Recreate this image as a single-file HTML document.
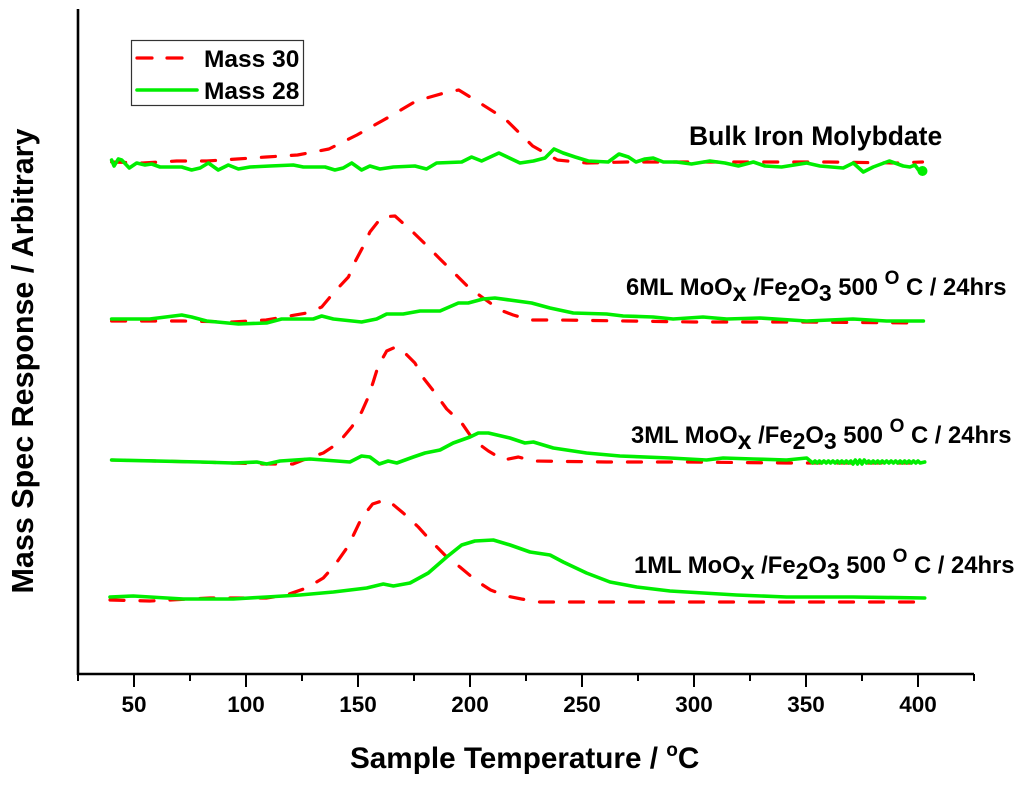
<!DOCTYPE html>
<html lang="en">
<head>
<meta charset="utf-8">
<title>Mass Spec Response vs Sample Temperature</title>
<style>
html,body{margin:0;padding:0;background:#fff;}
svg{display:block;filter:blur(0.35px);}
text{font-family:"Liberation Sans",Arial,sans-serif;font-weight:bold;fill:#000;}
</style>
</head>
<body>
<svg id="chart" width="1024" height="786" viewBox="0 0 1024 786" xmlns="http://www.w3.org/2000/svg">
<rect width="1024" height="786" fill="#fff"/>
<g id="series-layer"></g>
<g id="axis-layer"></g>
<text transform="translate(33,361) rotate(-90)" text-anchor="middle" font-size="30.5">Mass Spec Response / Arbitrary</text>
<text x="350" y="768" font-size="29.7">Sample Temperature / <tspan font-size="19" dy="-12">o</tspan><tspan dy="12">C</tspan></text>
<g>
<rect x="131.5" y="40.5" width="172" height="65" fill="#fff" stroke="#333" stroke-width="1.2"/>
<line x1="137" y1="58" x2="183" y2="58" stroke="#f00" stroke-width="3.2" stroke-linecap="round" stroke-dasharray="15 15"/>
<text x="204" y="67" font-size="24.5">Mass 30</text>
<line x1="137" y1="90" x2="197" y2="90" stroke="#0e0" stroke-width="3.6" stroke-linecap="round"/>
<text x="204" y="99" font-size="24.5">Mass 28</text>
</g>
<text x="689" y="145" font-size="26.5">Bulk Iron Molybdate</text>
<text x="626" y="295" font-size="23.8">6ML MoO<tspan font-size="25" dy="6">x</tspan><tspan dy="-6"> /Fe</tspan><tspan font-size="23" dy="6">2</tspan><tspan dy="-6">O</tspan><tspan font-size="23" dy="6">3</tspan><tspan dy="-6"> 500 </tspan><tspan font-size="19" dy="-11">O</tspan><tspan dy="11"> C / 24hrs</tspan></text>
<text x="631" y="443" font-size="23.8">3ML MoO<tspan font-size="25" dy="6">x</tspan><tspan dy="-6"> /Fe</tspan><tspan font-size="23" dy="6">2</tspan><tspan dy="-6">O</tspan><tspan font-size="23" dy="6">3</tspan><tspan dy="-6"> 500 </tspan><tspan font-size="19" dy="-11">O</tspan><tspan dy="11"> C / 24hrs</tspan></text>
<text x="634" y="573" font-size="23.8">1ML MoO<tspan font-size="25" dy="6">x</tspan><tspan dy="-6"> /Fe</tspan><tspan font-size="23" dy="6">2</tspan><tspan dy="-6">O</tspan><tspan font-size="23" dy="6">3</tspan><tspan dy="-6"> 500 </tspan><tspan font-size="19" dy="-11">O</tspan><tspan dy="11"> C / 24hrs</tspan></text>
</svg>
<script>
const xTickValues = [25,50,75,100,125,150,175,200,225,250,275,300,325,350,375,400,425];
const xTickLabels = ["50","100","150","200","250","300","350","400"];

const bulkM30T = [40,54,69,82.5,96,109,123,137,149.5,163,176,190,195,203,215.7,228,239,252,270,300,330,360,390,402];
const bulkM30R = [513,512,514,514,516,518,520,526,540,557,574,583,585,574,556,529,515,512,513,513,513,513,512,513];
const bulkM28T = [40,41.1,43,44.5,47.9,51.2,54.9,57.9,61.6,71.3,75.7,79.5,83.2,87.6,92.1,96.6,101.8,110.7,121.1,125.6,135.3,139.7,143.4,147.2,151.6,155.3,159.8,165.8,175.4,180.6,185.1,196.3,200.7,205.2,212.9,222.3,228.3,233.5,237.5,241.6,246.9,252.8,261.7,266.5,270.7,274.1,278.1,281.8,286.3,292.2,298.9,307.1,313.8,319.8,326.5,331.7,339.1,350.3,356.2,366.6,371.1,375.6,380,387.2,393.4,396.4,398.6,400.6,402];
const bulkM28R = [515,509,516,515,507,512,510,511,508,508,505,507,512,505,510,506,508,509,510,508,508,505,507,512,505,509,506,508,509,506,512,513,518,514,522,512,514,517,526,522,518,514,513,521,518,513,516,517,513,513,511,514,512,509,513,509,508,512,509,507,512,503,508,514,509,508,510,504,504];

const ml6M30T = [40,57,72,94,109,127,133.8,139,145.7,148.6,152.4,155.3,160.6,166.5,174,180,186.6,192.5,199.2,205.9,213.4,219.3,226.8,240,270,300,350,402];
const ml6M30R = [354,354,354,353,355,362,368,382,398,413,429,443,458,459,444,431,416,403,388,377,365,360,355,355,354,353,353,352];
const ml6M28T = [40,57,71.3,75.7,82.4,96.6,109.2,115.9,130,133.8,139,151.6,158.3,162.8,170.2,177.7,186.6,194.8,199.2,205.9,211.1,227.5,235.7,246.1,261,268.4,281.8,290.7,304,314.6,329.4,350.3,371,386,402.4];
const ml6M28R = [356,356,360,358,354,351,352,356,356,359,356,353,356,361,361,364,364,372,372,376,377,372,367,362,361,359,358,356,358,356,357,354,356,354,354];

const ml3M30T = [40,79.5,107.7,121,127.8,134.5,141.2,147.2,151.6,154.6,156.8,159,162.8,165.8,168.7,175.4,179.2,184.4,189.6,196.3,201.5,208.2,214.9,221.6,228.3,261,296.7,341.3,353.2,402];
const ml3M30R = [215,213,211,211,217,222,232,248,263,278,293,309,324,327,327,312,297,282,266,252,235,224,215,218,214,213,213,212,212,212];
const ml3M28T = [40,79.5,94.3,104.8,109.2,115.2,128.6,146.4,151.6,155.3,159.5,163.5,167.3,174.7,179.9,186.6,192.5,200,203.7,208.2,217.8,224.5,228.3,237.2,252,266.9,289.3,305.6,313,326.5,341.3,350.3,353,354,355,356,357,358,359,360,361,362,363,364,365,366,367,368,369,370,371,372,373,374,375,376,377,378,379,380,381,382,383,384,385,386,387,388,389,390,391,392,393,394,395,396,397,398,399,400,401,403];
const ml3M28R = [215,213,212,213,211,214,216,213,219,218,211,214,212,218,222,225,232,238,242,242,237,232,233,227,222,219,217,215,217,216,215,217,212,214,212,214,212,214,212,214,212,214,212,214,212,214,212,214,212,214,211,215,211,215,211,215,212,214,212,214,212,214,212,214,212,214,212,214,212,214,212,214,212,214,212,214,212,214,212,214,212,213];

const ml1M30T = [39.3,57,84,109,118,127,134.5,139.7,145,148,151.6,156.5,162,164.3,170.2,176.9,182.6,189.6,195.5,203,209.2,216.3,223,231.2,260,300,350,401];
const ml1M30R = [75,74,77,77,80,87,97,110,127,140,157,171,175,173,162,148,134,118,108,94,85,79,76,73,73,73,73,73];
const ml1M28T = [39.3,49.7,72,94.3,109.2,124,139,153.9,161.3,165.8,173.2,181.4,189.6,196.3,202.2,210.4,217.9,226.8,235.7,241.6,252,262.5,274.4,289.3,319,341.3,371,403];
const ml1M28R = [78,79,76,76,78,80,83,87,91,89,92,102,118,130,134,135,130,123,120,113,102,93,88,84,80,78,78,77];

const xDomain = [25,425];
const yDomain = [0,666];
const plot = {left:78,right:974,bottom:675,top:9};
function xScale(v){return plot.left+(v-xDomain[0])/(xDomain[1]-xDomain[0])*(plot.right-plot.left);}
function yScale(v){return plot.bottom-(v-yDomain[0])/(yDomain[1]-yDomain[0])*(plot.bottom-plot.top);}
const NS = "http://www.w3.org/2000/svg";
const seriesLayer = document.getElementById("series-layer");
const axisLayer = document.getElementById("axis-layer");

function drawSeries(name,ts,rs,color,width,dash){
  const p = document.createElementNS(NS,"polyline");
  p.setAttribute("points",ts.map((t,i)=>xScale(t).toFixed(1)+","+yScale(rs[i]).toFixed(1)).join(" "));
  p.setAttribute("fill","none");
  p.setAttribute("stroke",color);
  p.setAttribute("stroke-width",width);
  p.setAttribute("stroke-linejoin","round");
  p.setAttribute("stroke-linecap","round");
  if(dash)p.setAttribute("stroke-dasharray",dash);
  
  
  seriesLayer.appendChild(p);
}
const RED="#f00", GREEN="#0e0", DASH="14 16";
drawSeries("bulk-mass-30-line",bulkM30T,bulkM30R,RED,3.2,DASH);
drawSeries("ml6-mass-30-line",ml6M30T,ml6M30R,RED,3.2,DASH);
drawSeries("ml3-mass-30-line",ml3M30T,ml3M30R,RED,3.2,DASH);
drawSeries("ml1-mass-30-line",ml1M30T,ml1M30R,RED,3.2,DASH);
drawSeries("bulk-mass-28-line",bulkM28T,bulkM28R,GREEN,3.6,null);
drawSeries("ml6-mass-28-line",ml6M28T,ml6M28R,GREEN,3.6,null);
drawSeries("ml3-mass-28-line",ml3M28T,ml3M28R,GREEN,3.6,null);
drawSeries("ml1-mass-28-line",ml1M28T,ml1M28R,GREEN,3.6,null);

const endDot = document.createElementNS(NS,"circle");
endDot.setAttribute("cx",xScale(bulkM28T[bulkM28T.length-1]));
endDot.setAttribute("cy",yScale(bulkM28R[bulkM28R.length-1]));
endDot.setAttribute("r",5);
endDot.setAttribute("fill",GREEN);


seriesLayer.appendChild(endDot);

function axisLine(name,x1,y1,x2,y2,w){
  const l = document.createElementNS(NS,"line");
  l.setAttribute("x1",x1);l.setAttribute("y1",y1);l.setAttribute("x2",x2);l.setAttribute("y2",y2);
  l.setAttribute("stroke","#000");l.setAttribute("stroke-width",w);
  
  
  axisLayer.appendChild(l);
}
axisLine("y-axis-line",plot.left,plot.top,plot.left,plot.bottom,2.6);
axisLine("x-axis-line",plot.left-1,plot.bottom-1,plot.right,plot.bottom-1,2.6);
let labelIndex = 0;
xTickValues.forEach(v=>{
  const major = v%50===0;
  axisLine("x-tick",xScale(v),plot.bottom-1,xScale(v),plot.bottom+(major?12:6),2);
  if(major){
    const t = document.createElementNS(NS,"text");
    t.setAttribute("x",xScale(v));
    t.setAttribute("y",712);
    t.setAttribute("text-anchor","middle");
    t.setAttribute("font-size",22.5);
    t.textContent = xTickLabels[labelIndex++];
    
    
    axisLayer.appendChild(t);
  }
});
</script>
</body>
</html>
